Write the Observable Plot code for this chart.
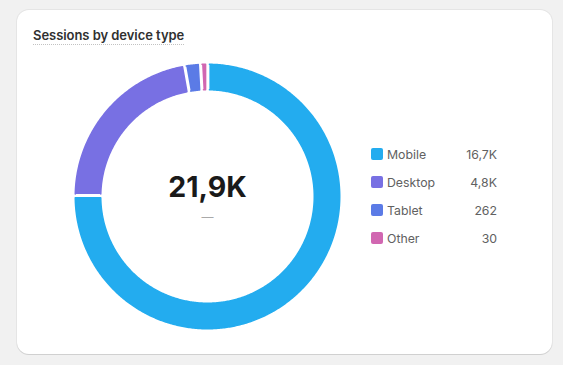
<!DOCTYPE html>
<html><head><meta charset="utf-8">
<script src="https://cdn.jsdelivr.net/npm/d3@7"></script>
<script src="https://cdn.jsdelivr.net/npm/@observablehq/plot@0.6"></script>
<style>
html,body{margin:0;padding:0;background:#f1f1f1;width:563px;height:365px;overflow:hidden;font-family:Inter,"Noto Sans",sans-serif;}
#card{position:absolute;left:17px;top:10px;width:535px;height:344px;background:#fff;border-radius:12px;box-shadow:0 1px 0 rgba(26,26,26,0.10),0 0 0 1px rgba(26,26,26,0.05);}
#title{position:absolute;left:16px;top:17px;font-size:13px;font-weight:600;color:#303030;border-bottom:1.5px dotted #c2c2c2;line-height:16px;padding-bottom:1px;letter-spacing:-0.05px}
#chart{position:absolute;left:50px;top:45.5px}
#legend{position:absolute;left:354px;top:130px;width:126px}
.row{display:flex;align-items:center;height:28px;font-size:12.3px;color:#616161}
.sw{width:12px;height:12px;border-radius:2px;margin-right:4px;flex:none}
.lab{flex:1}
.val{text-align:right}
</style></head>
<body>
<div id="card">
  <div id="title"></div>
  <div id="chart"></div>
  <div id="legend"></div>
</div>
<script>
const titleText = "Sessions by device type";
const devices = ["Mobile", "Desktop", "Tablet", "Other"];
const sessions = [16700, 4800, 262, 30];
const sessionLabels = ["16,7K", "4,8K", "262", "30"];
const colors = ["#23acef", "#7870e3", "#5b7be6", "#d167b1"];
const totalLabel = "21,9K";
const subLabel = "—";

document.getElementById("title").textContent = titleText;

// ring geometry (styling)
const SW = 1.5;
const R_OUT = 133 - SW / 2, R_IN = 106 + SW / 2, GAP = 2.3 + SW;
const PAD = 2.7 * Math.PI / 180;

const pie = d3.pie().sort(null).padAngle(PAD).value(d => d.value);
const arcs = pie(devices.map((name, i) => ({name, value: sessions[i]})));
const pts = [];
for (const a of arcs) {
  const ring = (r, forward) => {
    const s = a.startAngle + GAP / 2 / r, e = a.endAngle - GAP / 2 / r;
    const n = Math.max(2, Math.ceil((e - s) / 0.01));
    const ts = d3.range(n + 1).map(k => s + (e - s) * k / n);
    if (!forward) ts.reverse();
    return ts.map(t => ({name: a.data.name, x: r * Math.sin(t), y: r * Math.cos(t)}));
  };
  pts.push(...ring(R_OUT, true), ...ring(R_IN, false));
}

const chart = Plot.plot({
  width: 280, height: 280, margin: 0,
  style: {background: "transparent", fontFamily: "Inter, sans-serif", overflow: "visible"},
  x: {domain: [-140, 140], axis: null},
  y: {domain: [-140, 140], axis: null},
  color: {domain: devices, range: colors},
  marks: [
    Plot.line(pts, {x: "x", y: "y", z: "name", fill: "name", stroke: "name", strokeWidth: SW, strokeLinejoin: "round"}),
    Plot.text([totalLabel], {frameAnchor: "middle", text: d => d, fontSize: 28.5, fontWeight: 700, fill: "#1a1a1a", dy: -8.5}),
    Plot.text([subLabel], {frameAnchor: "middle", text: d => d, fontSize: 12, fill: "#a9a9a9", dy: 20.5})
  ]
});
document.getElementById("chart").append(chart);

const legend = document.getElementById("legend");
devices.forEach((d, i) => {
  const row = document.createElement("div");
  row.className = "row";
  row.innerHTML = `<span class="sw" style="background:${colors[i]}"></span><span class="lab">${d}</span><span class="val">${sessionLabels[i]}</span>`;
  legend.append(row);
});
</script>
</body></html>
